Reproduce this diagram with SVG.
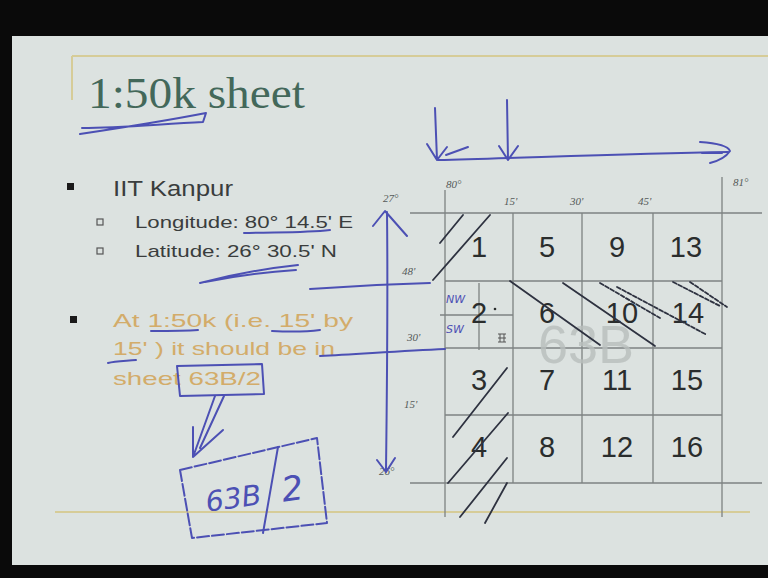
<svg xmlns="http://www.w3.org/2000/svg" width="768" height="578" viewBox="0 0 768 578">
<style>
.grid{stroke:#7d8382;stroke-width:1.3;fill:none}
.ink{stroke:#4c50b4;stroke-width:2;fill:none;stroke-linecap:round;stroke-linejoin:round}
.pen{stroke:#2e3240;stroke-width:1.8;fill:none;stroke-linecap:round}
.num{font-family:"Liberation Sans",Arial,sans-serif;font-size:29px;fill:#2a2d2d;text-anchor:middle}
.lbl{font-family:"Liberation Serif",serif;font-size:11px;fill:#555a59;font-style:italic}
.body{font-family:"Liberation Sans",Arial,sans-serif;fill:#3a3d3d}
.gold{font-family:"Liberation Sans",Arial,sans-serif;font-size:19px;fill:#d3ac6a}
.hand{font-family:"DejaVu Sans",sans-serif;fill:#4c50b4}
</style>
<rect x="0" y="0" width="768" height="578" fill="#0a0a0a"/>
<rect x="12" y="36" width="756" height="529" fill="#dce2e0"/>
<g id="frame" fill="none" stroke="#d6cc98" stroke-width="2">
<path d="M72 56 H768"/>
<path d="M72 56 V100"/>
<path d="M55 512 H750"/>
</g>
<g id="title">
<text x="88" y="108" font-family="Liberation Serif,serif" font-size="44" fill="#43685a" textLength="217" lengthAdjust="spacingAndGlyphs">1:50k sheet</text>
<path class="ink" d="M80 134 C120 128 170 120 206 113 L203 122 C160 124 120 128 82 128" stroke-width="2.5"/>
</g>
<g id="bullets">
<rect x="67" y="183" width="7" height="7" fill="#1a1a1a"/>
<text class="body" x="113" y="196" font-size="22" textLength="120" lengthAdjust="spacingAndGlyphs">IIT Kanpur</text>
<rect x="97" y="219" width="6" height="6" fill="none" stroke="#555" stroke-width="1.2"/>
<text class="body" x="135" y="228" font-size="17" textLength="218" lengthAdjust="spacingAndGlyphs">Longitude: 80° 14.5' E</text>
<rect x="97" y="248" width="6" height="6" fill="none" stroke="#555" stroke-width="1.2"/>
<text class="body" x="135" y="257" font-size="17" textLength="202" lengthAdjust="spacingAndGlyphs">Latitude: 26° 30.5' N</text>
<path class="ink" d="M244 233 C275 232 305 233 330 230"/>
<path class="ink" d="M200 283 C230 275 270 268 298 265 M205 282 C235 276 265 272 296 270" stroke-width="3"/>
<rect x="70" y="316" width="7" height="7" fill="#1a1a1a"/>
<text class="gold" x="113" y="327" textLength="240" lengthAdjust="spacingAndGlyphs">At 1:50k  (i.e. 15' by</text>
<text class="gold" x="113" y="355" textLength="222" lengthAdjust="spacingAndGlyphs">15' ) it should be in</text>
<text class="gold" x="113" y="385" textLength="148" lengthAdjust="spacingAndGlyphs">sheet 63B/2</text>
<path class="ink" d="M151 331 C170 331 185 331 198 330 M272 331 C290 332 305 332 320 330 M108 363 C115 361 125 361 136 360" stroke-width="2.5"/>
</g>
<g id="handnote">
<path class="ink" d="M177 366 L262 364 L264 394 L180 396 Z" stroke-width="1.6"/>
<path class="ink" d="M215 396 L193 457 M224 396 L200 448 M193 457 L193 427 M193 457 L223 430" stroke-width="1.6"/>
<path class="ink" d="M180 470 L317 438 L327 523 L192 538 Z" stroke-width="1.6" stroke-dasharray="12 3"/>
<path class="ink" d="M278 447 L263 533" stroke-width="1.6"/>
<text class="hand" x="205" y="508" font-size="28" font-style="italic" textLength="56" lengthAdjust="spacingAndGlyphs" transform="rotate(-8 233 495)">63B</text>
<text class="hand" x="281" y="500" font-size="34" font-style="italic" transform="rotate(-8 295 485)">2</text>
</g>
<g id="grid">
<path class="grid" d="M410 213 H762 M445 281 H722 M445 348 H722 M445 415 H722 M410 483 H762"/>
<path class="grid" d="M445 190 V517 M722 177 V517 M513 213 V483 M582 213 V483 M653 213 V483"/>
<path class="grid" d="M440 315 H513 M479 283 V350" stroke="#3d4140"/>
<text class="lbl" x="446" y="188">80°</text>
<text class="lbl" x="733" y="186">81°</text>
<text class="lbl" x="504" y="205">15'</text>
<text class="lbl" x="570" y="205">30'</text>
<text class="lbl" x="638" y="205">45'</text>
<text class="lbl" x="383" y="202">27°</text>
<text class="lbl" x="402" y="275">48'</text>
<text class="lbl" x="407" y="341">30'</text>
<text class="lbl" x="404" y="408">15'</text>
<text class="lbl" x="379" y="475">26°</text>
<text x="538" y="363" font-family="Liberation Sans,Arial,sans-serif" font-size="54" fill="#b9bfbd" opacity="0.8">63B</text>
</g>
<g id="cells">
<text class="num" x="479" y="257">1</text>
<text class="num" x="547" y="257">5</text>
<text class="num" x="617" y="257">9</text>
<text class="num" x="686" y="257">13</text>
<text class="num" x="479" y="323">2</text>
<text class="num" x="547" y="323">6</text>
<text class="num" x="622" y="323">10</text>
<text class="num" x="688" y="323">14</text>
<text class="num" x="479" y="390">3</text>
<text class="num" x="547" y="390">7</text>
<text class="num" x="617" y="390">11</text>
<text class="num" x="687" y="390">15</text>
<text class="num" x="479" y="457">4</text>
<text class="num" x="547" y="457">8</text>
<text class="num" x="617" y="457">12</text>
<text class="num" x="687" y="457">16</text>
<circle cx="495" cy="309" r="1.3" fill="#2a2d2d"/>
<path d="M498 334 H506 M498 338 H506 M498 342 H506 M500 334 V342 M504 334 V342" stroke="#555" stroke-width="1" fill="none"/>
</g>
<g id="connectors">
<path class="pen" d="M440 243 L463 215 M433 280 L490 215"/>
<path class="pen" d="M453 437 L507 368 M448 483 L508 413 M460 517 L507 458 M485 523 L507 483"/>
<path class="pen" d="M510 281 L600 345 M563 283 L655 346"/>
<path class="pen" d="M600 283 L660 318 M617 287 L707 335 M673 282 L720 306 M690 282 L727 307" stroke-dasharray="4 2" stroke-width="1.5"/>
<path class="ink" d="M438 160 C520 158 620 154 728 152"/>
<path class="ink" d="M700 142 C715 143 728 146 730 151 C726 157 718 161 710 163 M702 153 L722 153" stroke-width="1.8"/>
<path class="ink" d="M435 108 L437 160 M427 144 L437 160 L447 147 M446 155 L468 147" stroke-width="1.8"/>
<path class="ink" d="M507 100 L508 160 M499 146 L508 160 L518 146" stroke-width="1.8"/>
<path class="ink" d="M387 212 C388 300 387 390 386 470 M373 226 L385 211 L407 236 M377 460 L386 472 L395 458" stroke-width="1.8"/>
<path class="ink" d="M310 289 C350 286 390 284 430 283"/>
<path class="ink" d="M320 356 C360 354 400 351 445 349"/>
<text class="hand" x="446" y="303" font-size="11" font-style="italic">NW</text>
<text class="hand" x="446" y="333" font-size="11" font-style="italic">SW</text>
</g>
</svg>
